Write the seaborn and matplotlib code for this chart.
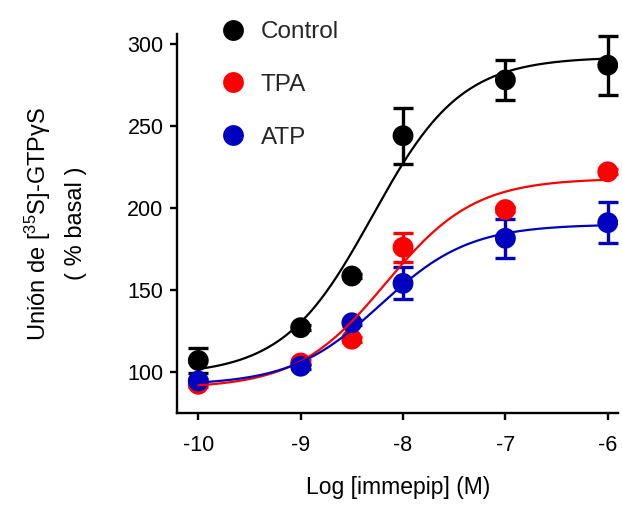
import numpy as np
import pandas as pd
import matplotlib
matplotlib.use("Agg")
import matplotlib.pyplot as plt
from matplotlib.lines import Line2D
import seaborn as sns

# ---------------- data ----------------
log_conc = [-10, -9, -8.5, -8, -7, -6]
series = ["Control", "TPA", "ATP"]
control_mean = [107, 127, 158.5, 244, 278, 287]
control_sem = [7.5, 1.5, 1.5, 17, 12, 18]
tpa_mean = [92.5, 105.5, 120, 176, 199, 222]
tpa_sem = [1.5, 1.5, 1.5, 9, 1.5, 1.5]
atp_mean = [94.5, 103.5, 130, 154, 181.5, 191]
atp_sem = [1.5, 1.5, 1.5, 9.7, 12, 12.5]

# sigmoid fit parameters (bottom, top, logEC50, hill slope) for each series
fit_bottom = [98, 90, 92]
fit_top = [292, 218, 190]
fit_logec50 = [-8.3, -8.17, -8.22]
fit_hill = [1.0, 1.0, 1.0]

x_ticks = [-10, -9, -8, -7, -6]
x_tick_labels = ["-10", "-9", "-8", "-7", "-6"]
y_ticks = [100, 150, 200, 250, 300]
y_tick_labels = ["100", "150", "200", "250", "300"]

colors = ["#000000", "#FF0000", "#0000C0"]

# ---------------- build tables ----------------
means = [control_mean, tpa_mean, atp_mean]
sems = [control_sem, tpa_sem, atp_sem]
pts = pd.DataFrame({
    "x": np.tile(log_conc, 3),
    "y": np.concatenate(means),
    "sem": np.concatenate(sems),
    "series": np.repeat(series, len(log_conc)),
})

xx = np.linspace(min(log_conc), max(log_conc), 300)
curve_rows = []
for i, s in enumerate(series):
    yy = fit_bottom[i] + (fit_top[i] - fit_bottom[i]) / (1 + 10 ** ((fit_logec50[i] - xx) * fit_hill[i]))
    curve_rows.append(pd.DataFrame({"x": xx, "y": yy, "series": s}))
curves = pd.concat(curve_rows, ignore_index=True)

# ---------------- style ----------------
sns.set_theme(style="ticks")
plt.rcParams["font.family"] = ["Liberation Sans", "DejaVu Sans"]
plt.rcParams["mathtext.fontset"] = "custom"
plt.rcParams["mathtext.rm"] = "Liberation Sans"
plt.rcParams["mathtext.it"] = "Liberation Sans"
plt.rcParams["mathtext.bf"] = "Liberation Sans:bold"

fig = plt.figure(figsize=(6.22, 5.07), dpi=100)
ax = fig.add_axes([177.3 / 622, (507 - 413) / 507, (618 - 177.3) / 622, (413 - 34) / 507])

palette = dict(zip(series, colors))

for i, s in enumerate(series):
    d = pts[pts["series"] == s]
    ax.errorbar(d["x"], d["y"], yerr=d["sem"], fmt="none", ecolor=colors[i],
                elinewidth=2.4, capsize=7, capthick=2.4, zorder=2 + i * 0.1)
    sns.scatterplot(data=d, x="x", y="y", color=colors[i], s=15 ** 2,
                    edgecolor="none", linewidth=0, ax=ax, zorder=3 + i * 0.1, legend=False)

sns.lineplot(data=curves, x="x", y="y", hue="series", palette=palette,
             linewidth=1.6, ax=ax, legend=False, sort=False, errorbar=None, zorder=4)

ax.set_xlim(-10.205, -5.9)
ax.set_ylim(75, 306)
ax.set_xticks(x_ticks)
ax.set_xticklabels(x_tick_labels)
ax.set_yticks(y_ticks)
ax.set_yticklabels(y_tick_labels)
ax.tick_params(axis="both", labelsize=15.5, width=1.7, length=5, color="black", labelcolor="black")
ax.tick_params(axis="x", pad=11)
ax.tick_params(axis="y", pad=5)
for sp in ["left", "bottom"]:
    ax.spines[sp].set_linewidth(1.7)
    ax.spines[sp].set_color("black")
sns.despine(ax=ax)

ax.set_xlabel("Log [immepip] (M)", fontsize=16.5, color="black")
ax.xaxis.set_label_coords(0.5, -0.165)
ax.set_ylabel("Unión de [$^{35}$S]-GTP$\\gamma$S\n( % basal )", fontsize=17,
              color="black", linespacing=1.7)
ax.yaxis.set_label_coords(-0.205, 0.5)

handles = [Line2D([0], [0], marker="o", linestyle="none", markersize=15,
                  markerfacecolor=c, markeredgecolor="none") for c in colors]
fig.legend(handles, series, loc="upper left", bbox_to_anchor=(218 / 622, 1 - 21 / 507),
           frameon=False, fontsize=17.5, handlelength=1.2, handletextpad=0.56,
           labelspacing=1.27, borderpad=0, borderaxespad=0)

fig.savefig("out.png", dpi=100)
